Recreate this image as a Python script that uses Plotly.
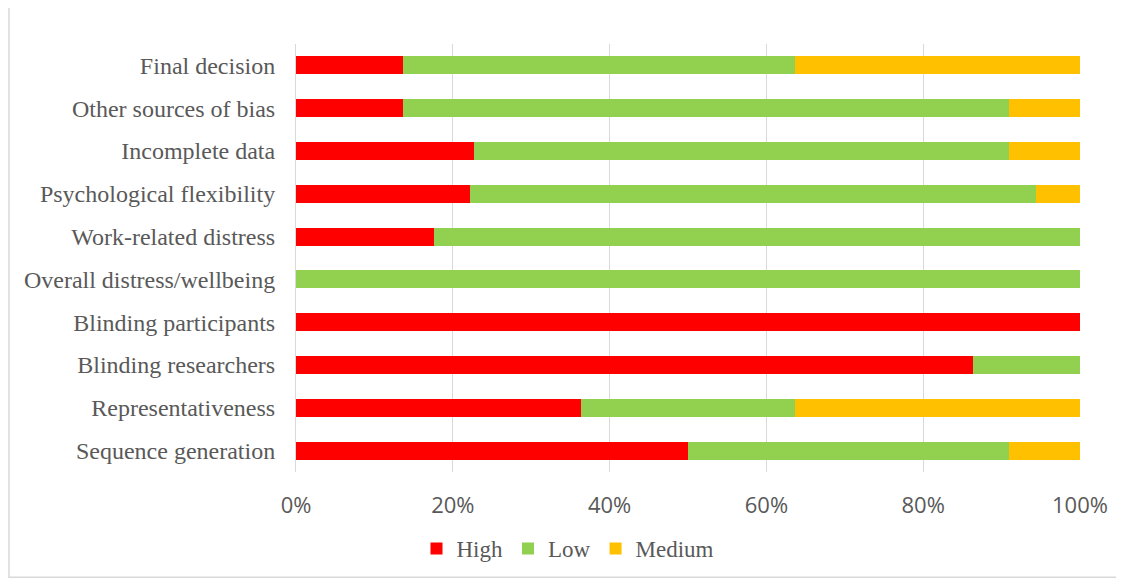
import plotly.graph_objects as go

categories = ["Sequence generation", "Representativeness", "Blinding researchers",
              "Blinding participants", "Overall distress/wellbeing", "Work-related distress",
              "Psychological flexibility", "Incomplete data", "Other sources of bias",
              "Final decision"]
high = [50.0, 36.4, 86.4, 100.0, 0.0, 17.6, 22.2, 22.7, 13.6, 13.6]
low = [40.9, 27.3, 13.6, 0.0, 100.0, 82.4, 72.2, 68.2, 77.3, 50.0]
medium = [9.1, 36.4, 0.0, 0.0, 0.0, 0.0, 5.6, 9.1, 9.1, 36.4]
series_names = ["High", "Low", "Medium"]
tick_vals = [0, 20, 40, 60, 80, 100]
tick_text = ["0%", "20%", "40%", "60%", "80%", "100%"]

colors = ["#FF0000", "#92D050", "#FFC000"]

# page offset (browser body margin) ~8px
OFF = 8
W, H = 1116, 573
PX0, PX1 = 296, 1080      # plot area in screen px
PY0, PY1 = 44.0, 472.6

fig = go.Figure()
for name, vals, c in zip(series_names, [high, low, medium], colors):
    fig.add_trace(go.Bar(y=categories, x=vals, name=name, orientation="h",
                         marker=dict(color=c, line=dict(width=0))))

pw = PX1 - PX0
ph = PY1 - PY0
fig.update_layout(
    barmode="stack",
    bargap=0.58,
    width=W, height=H,
    margin=dict(l=PX0 - OFF, r=OFF + W - PX1, t=PY0 - OFF, b=OFF + H - PY1, pad=0),
    paper_bgcolor="white", plot_bgcolor="white",
    font=dict(family="Liberation Serif", color="#595959"),
    legend=dict(orientation="h", x=(568 - PX0) / pw, xanchor="center",
                y=(PY1 - 548) / ph, yanchor="middle",
                font=dict(family="Liberation Serif", size=23, color="#595959"),
                itemwidth=30, traceorder="normal"),
    shapes=[dict(type="rect", xref="paper", yref="paper",
                 x0=(9 - PX0) / pw, x1=(1140 - PX0) / pw,
                 y0=(PY1 - 578) / ph, y1=(PY1 - 7) / ph,
                 line=dict(color="#D9D9D9", width=1.5), layer="below")],
)
fig.update_xaxes(range=[0, 100], tickvals=tick_vals, ticktext=tick_text,
                 showgrid=True, gridcolor="#D9D9D9", gridwidth=1, zeroline=False,
                 tickfont=dict(family="Open Sans", size=22, color="#595959"),
                 ticklabelstandoff=18, showline=False)
fig.update_yaxes(tickfont=dict(family="Liberation Serif", size=24, color="#595959"),
                 showgrid=False, showline=True, linecolor="#D9D9D9", ticks="",
                 ticklabelstandoff=15)

fig.write_html("out.html")
